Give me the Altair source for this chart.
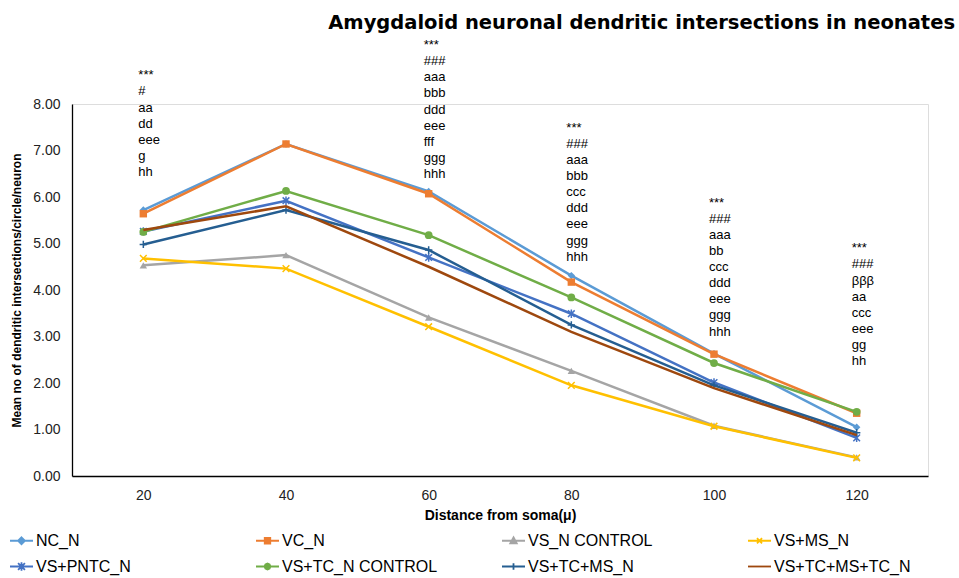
import altair as alt
import pandas as pd

# Distances from the soma (x categories)
distances = ["20", "40", "60", "80", "100", "120"]

# Group names, in legend order
series_names = [
    "NC_N", "VC_N", "VS_N CONTROL", "VS+MS_N",
    "VS+PNTC_N", "VS+TC_N CONTROL", "VS+TC+MS_N", "VS+TC+MS+TC_N",
]

# Mean dendritic intersections per circle per neuron
nc_n = [5.72, 7.14, 6.12, 4.31, 2.63, 1.05]
vc_n = [5.64, 7.14, 6.07, 4.17, 2.62, 1.35]
vs_n_control = [4.53, 4.75, 3.41, 2.26, 1.08, 0.40]
vs_ms_n = [4.68, 4.46, 3.21, 1.95, 1.07, 0.39]
vs_pntc_n = [5.26, 5.92, 4.70, 3.49, 2.01, 0.82]
vs_tc_n_control = [5.25, 6.13, 5.18, 3.84, 2.43, 1.38]
vs_tc_ms_n = [4.98, 5.72, 4.86, 3.25, 1.95, 0.93]
vs_tc_ms_tc_n = [5.29, 5.80, 4.50, 3.10, 1.89, 0.88]

series_values = [nc_n, vc_n, vs_n_control, vs_ms_n,
                 vs_pntc_n, vs_tc_n_control, vs_tc_ms_n, vs_tc_ms_tc_n]

# Significance annotations: category, value at the first line, lines
NB = "\u00a0"
ann_x = ["20", "60", "80", "100", "120"]
ann_y = [8.53, 9.18, 7.40, 5.79, 4.81]
ann_lines = [
    ["***", "#", "aa", "dd", "eee", "g", "hh"],
    ["***", "###", "aaa", NB + "bbb", "ddd", "eee", NB + "fff", "ggg", "hhh"],
    ["***", "###", "aaa", NB + "bbb", NB + "ccc", NB + "ddd", NB + "eee", "ggg", "hhh"],
    ["***", "###", "aaa", NB + "bb", NB + "ccc", NB + "ddd", NB + "eee", "ggg", "hhh"],
    ["***", "###", "βββ", "aa", "ccc", "eee", "gg", "hh"],
]

colors = ["#5B9BD5", "#ED7D31", "#A5A5A5", "#FFC000",
          "#4472C4", "#70AD47", "#255E91", "#9E480E"]
fills = ["#5B9BD5", "#ED7D31", "#A5A5A5", "transparent",
         "transparent", "#70AD47", "transparent", "transparent"]

# Marker drawn on the data points of each group: shape, size, filled
marker_shapes = [
    ("diamond", 55, True),
    ("square", 55, True),
    ("triangle-up", 55, True),
    ("M-1,-1L1,1M-1,1L1,-1", 45, False),
    ("M-1,-1L1,1M-1,1L1,-1M0,-1.25V1.25", 45, False),
    ("circle", 60, True),
    ("M0,-1.1V1.1M-1.1,0H1.1", 45, False),
    None,
]

# Legend symbols: a short line with the marker in its middle
legend_paths = [
    "M-1,0H1M0,-0.3L0.3,0L0,0.3L-0.3,0Z",
    "M-1,0H1M-0.24,-0.24H0.24V0.24H-0.24Z",
    "M-1,0H1M0,-0.3L0.28,0.22H-0.28Z",
    "M-1,0H1M-0.22,-0.22L0.22,0.22M-0.22,0.22L0.22,-0.22",
    "M-1,0H1M-0.3,-0.3L0.3,0.3M-0.3,0.3L0.3,-0.3M0,-0.38V0.38",
    "M-1,0H1M0.26,0L0.18,0.18L0,0.26L-0.18,0.18L-0.26,0L-0.18,-0.18L0,-0.26L0.18,-0.18Z",
    "M-1,0H1M0,-0.28V0.28",
    "M-1,0H1",
]

FONT = "Liberation Sans"

rows = []
for name, vals in zip(series_names, series_values):
    for d, v in zip(distances, vals):
        rows.append({"series": name, "distance": d, "value": v})
df = pd.DataFrame(rows)

ann_df = pd.DataFrame({
    "distance": ann_x,
    "value": ann_y,
    "text": ["\n".join(lines) for lines in ann_lines],
})

x_enc = alt.X(
    "distance:O", sort=distances,
    scale=alt.Scale(type="point", padding=0.5),
    axis=alt.Axis(
        title="Distance from soma(μ)", labelAngle=0, ticks=False,
        labelPadding=12, labelFont=FONT, labelFontSize=14,
        labelColor="#222", titleFont=FONT, titleFontSize=14,
        titleFontWeight="bold", titleColor="black", titlePadding=6,
        domainColor="black", domainWidth=1.3,
    ),
)
y_enc = alt.Y(
    "value:Q",
    scale=alt.Scale(domain=[0, 8], nice=False),
    axis=alt.Axis(
        title="Mean no of dendritic intersections/circle/neuron",
        values=[0, 1, 2, 3, 4, 5, 6, 7, 8], format=".2f", grid=False,
        ticks=False, labelPadding=12, labelFont=FONT, labelFontSize=14,
        labelColor="#222", titleFont=FONT, titleFontSize=12,
        titleFontWeight="bold", titleColor="black", titlePadding=9,
        domainColor="black", domainWidth=1.3,
    ),
)

base = alt.Chart(df)

# One line (and its markers) per group
series_layers = []
for name, color, marker in zip(series_names, colors, marker_shapes):
    sub = base.transform_filter(alt.datum.series == name)
    series_layers.append(
        sub.mark_line(strokeWidth=2.5, color=color).encode(x=x_enc, y=y_enc)
    )
    if marker is not None:
        shape, size, filled = marker
        series_layers.append(
            sub.mark_point(shape=shape, size=size, filled=filled,
                           color=color, strokeWidth=1.5, opacity=1)
            .encode(x=x_enc, y=y_enc)
        )

legend = alt.Legend(
    title=None, orient="none", legendX=-63, legendY=424,
    direction="horizontal", columns=4, gridAlign="all", columnPadding=60,
    rowPadding=5, symbolSize=529, symbolStrokeWidth=1.8, labelOffset=2,
    symbolOpacity=1, labelFont=FONT, labelFontSize=16, labelColor="black",
    labelLimit=400,
)

# Legend-carrying layer: zero-size points, their scales give the entries
legend_layer = base.mark_point(filled=True, size=0, opacity=1).encode(
    x=x_enc, y=y_enc,
    fill=alt.Fill("series:N", scale=alt.Scale(domain=series_names, range=fills),
                  legend=legend),
    stroke=alt.Stroke("series:N",
                      scale=alt.Scale(domain=series_names, range=colors),
                      legend=legend),
    shape=alt.Shape("series:N",
                    scale=alt.Scale(domain=series_names, range=legend_paths),
                    legend=legend),
)

annotations = alt.Chart(ann_df).mark_text(
    align="left", baseline="alphabetic", lineBreak="\n", lineHeight=16.1,
    font=FONT, fontSize=13, color="black", dx=-5,
).encode(x=x_enc, y=y_enc, text="text:N")

chart = alt.layer(*series_layers, legend_layer, annotations).properties(
    width=856, height=372,
    title=alt.TitleParams(
        "Amygdaloid neuronal dendritic intersections in neonates",
        anchor="end", frame="group", offset=6, dx=27,
        font="DejaVu Sans", fontSize=19.5, fontWeight="bold", color="black",
    ),
    autosize=alt.AutoSizeParams(type="none"),
    padding={"left": 72, "top": 104, "right": 31, "bottom": 102},
).configure_view(stroke=None).configure(background="white")

chart.save("out.html", embed_options={"renderer": "svg", "actions": False})
